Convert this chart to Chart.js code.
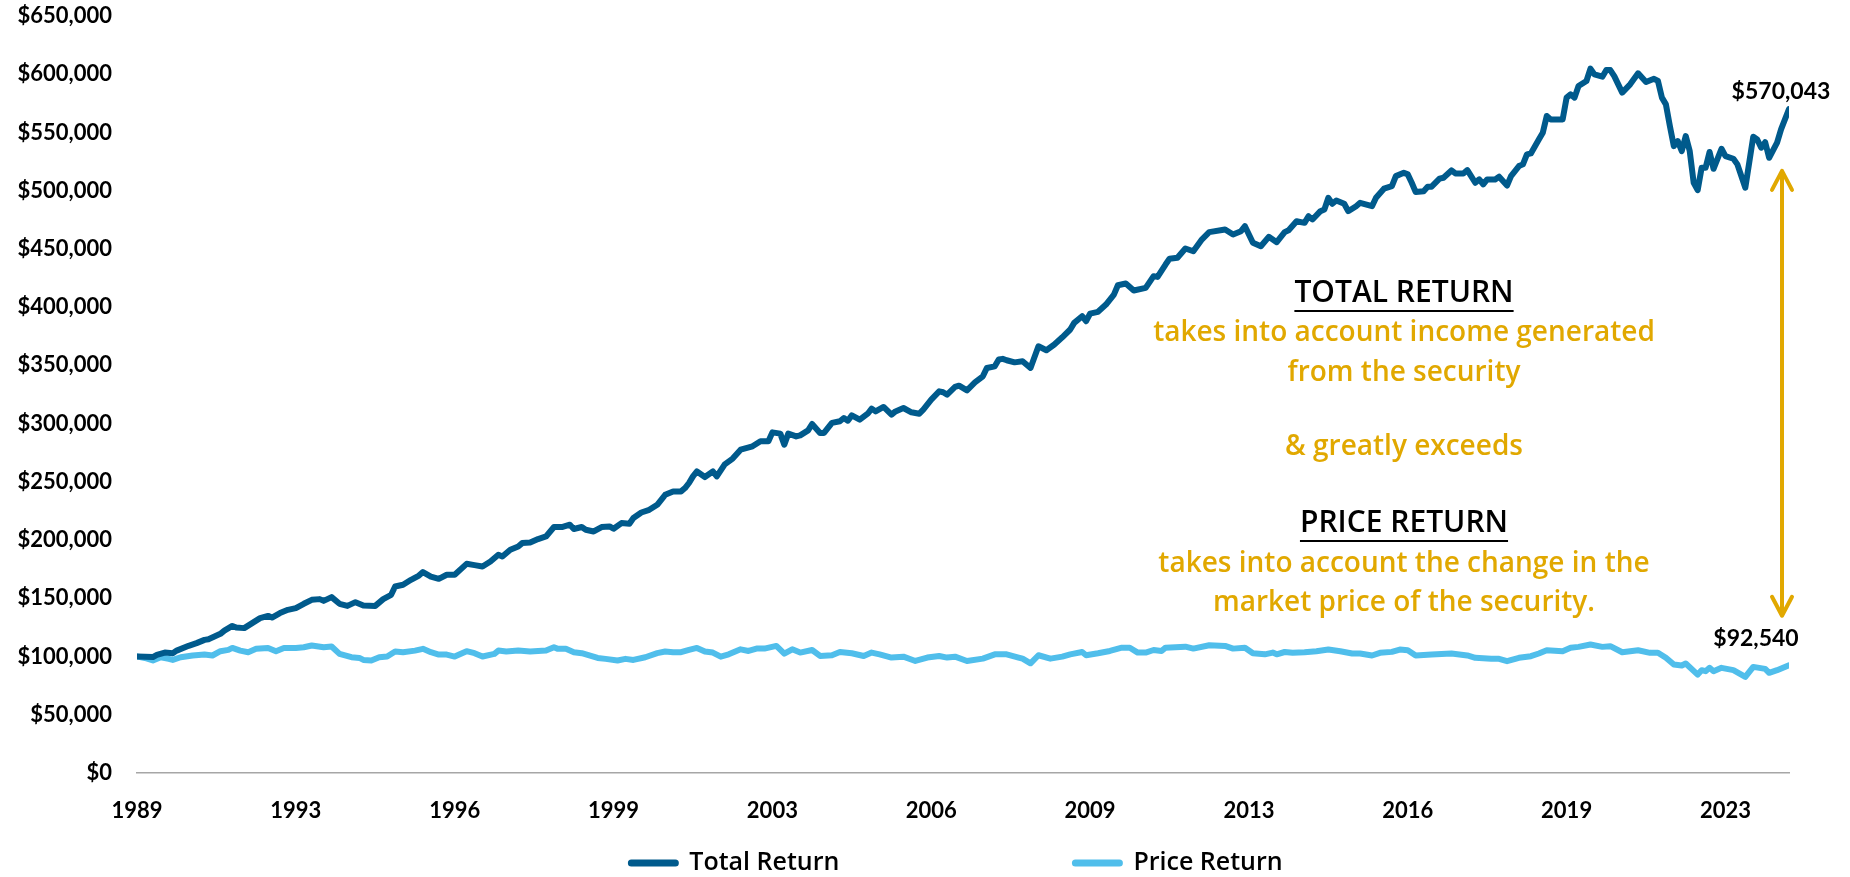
<!DOCTYPE html>
<html><head><meta charset="utf-8">
<script src="https://cdn.jsdelivr.net/npm/chart.js@4.4.0/dist/chart.umd.min.js"></script>
<style>html,body{margin:0;padding:0;background:#fff;} #wrap{width:1850px;height:877px;position:relative;}</style>
</head><body><div id="wrap"><canvas id="c"></canvas></div>
<script>
// x axis: months counted from the first observation (late 1989)
const xTickLabels = ['1989','1993','1996','1999','2003','2006','2009','2013','2016','2019','2023'];
const seriesNames = ['Total Return','Price Return'];
const endLabels = ['$570,043','$92,540'];
const noteLines = ['TOTAL RETURN','takes into account income generated','from the security','& greatly exceeds','PRICE RETURN','takes into account the change in the','market price of the security.'];

const totalReturnMonth = [0,4,5,7,9,10,13,15,17,18,
21,22,24,25,27,29,31,33,34,36,
38,40,42,44,46,47,49,51,53,55,
57,60,62,64,65,67,69,71,72,74,
76,78,80,83,85,87,89,91,92,94,
96,97,99,101,103,105,107,109,110,112,
113,115,117,119,120,122,124,125,127,129,
131,133,135,137,138,139,140,141,143,145,
146,148,150,152,155,157,159,160,162,163,
164,166,167,169,170,172,173,175,177,178,
179,180,182,184,185,186,188,190,191,193,
195,197,198,200,202,203,204,206,207,209,
211,213,214,216,217,218,219,221,223,225,
227,229,231,233,235,236,238,239,240,242,
244,246,247,249,251,254,256,257,259,260,
262,264,266,268,270,274,276,278,279,281,
283,285,287,289,290,292,294,295,296,298,
299,300,301,302,304,305,307,308,311,312,
314,316,317,319,320,321,322,324,325,326,
328,329,331,332,334,335,337,338,339,340,
342,343,345,346,348,349,350,351,353,354,
355,356,359,360,361,362,363,365,366,367,
369,370,371,372,374,376,378,380,382,383,
384,385,386,387,388,389,390,391,392,393,
394,395,396,397,399,400,402,403,405,407,
408,409,410,411,413,414,416];
const totalReturnValue = [100000,99500,101400,103400,102900,105100,109200,111500,114300,114900,
119500,122300,126300,124900,124400,128700,133000,134900,133500,137300,
140100,141600,145300,148700,149300,147800,151000,145300,143500,146700,
143800,143500,149300,153000,160100,161600,165900,169500,172500,168700,
166700,170200,170200,179600,178500,177300,181600,187400,185900,191700,
194500,197400,197900,200900,203100,211200,211200,213200,209500,211200,
208900,207400,211200,211700,209700,214600,214000,218900,223700,226000,
230300,238900,241800,241800,244700,249000,254700,258900,254100,258900,
254700,265000,270000,277600,280500,284800,284800,292500,291400,281900,
291400,289000,289900,294200,299700,292000,292000,300600,302000,304800,
302500,307100,303400,308500,312900,310500,314300,307700,310500,313400,
309700,308500,312000,320600,327700,326900,324900,331500,332600,328600,
335400,340600,347800,349200,355000,355600,354400,352600,353500,347800,
366400,363000,367900,374100,380800,386500,392200,387900,394500,396000,
402200,410800,418800,420300,414300,416600,426600,426000,436600,441500,
442400,450400,448000,457500,464400,466700,462400,465200,469500,455300,
452300,460400,455800,464400,466000,473800,472400,478100,475300,482400,
483900,493900,488800,491600,488800,482400,486700,489600,486700,493900,
501700,503900,512500,515400,514000,506800,498800,499600,503400,503400,
510300,511100,517400,514800,514800,517700,506800,509700,505400,509700,
509700,512000,504500,512500,521100,522600,531200,532000,544000,549800,
564100,561200,561200,579900,582700,579900,589900,594200,604800,599900,
597900,603600,603600,598400,584200,591300,600800,593300,596100,594200,
579900,574100,555500,538300,542600,534000,546900,534000,506800,500500,
519700,519700,533200,518800,536000,529700,527400,522600,502500,546400,
544000,536900,541700,528300,541200,552600,570043];

const priceReturnMonth = [0,2,4,6,8,9,11,14,17,19,
21,23,24,26,28,30,33,35,37,40,
42,44,47,49,51,54,56,57,59,61,
63,65,67,70,72,74,76,78,80,83,
85,87,90,91,93,96,99,103,105,106,
108,110,112,116,118,121,123,125,128,131,
133,135,137,139,141,143,145,147,149,152,
154,156,158,161,163,165,167,170,172,175,
177,180,183,185,187,190,193,196,199,202,
204,206,209,213,216,219,222,223,225,227,
230,233,235,238,239,242,245,248,250,252,
254,256,258,259,264,266,270,274,276,279,
281,284,286,287,289,291,294,297,300,303,
306,308,311,313,316,318,320,322,326,331,
335,337,341,343,345,348,351,353,355,359,
361,363,366,369,371,374,378,381,383,385,
387,389,390,393,394,395,396,397,399,402,
405,407,410,411,413,416];
const priceReturnValue = [100000,98800,96600,99400,98000,97100,99400,100900,101700,100900,
104600,105700,107400,105100,103700,106600,107400,104600,107400,107400,
108000,109500,108000,108600,102300,99400,98800,97100,96600,99400,
100000,104300,103700,105100,106600,103700,101700,101700,100000,104600,
102900,100000,102300,105100,104300,105100,104300,105100,108000,106600,
106600,103700,102900,98800,98000,96600,98000,97100,99400,102900,
104300,103700,103700,105700,107400,104300,103400,99900,101900,106200,
104800,106800,106800,109100,102500,106200,103400,105600,100500,101100,
103900,102800,100500,103400,101900,99100,99900,96200,99100,100500,
99100,99900,96200,98200,101900,101900,99100,98200,94200,101100,
98200,99900,101900,103900,101100,102800,104800,107600,107600,103400,
103400,105600,104800,107600,108500,106800,109700,109100,106800,107600,
102800,101900,103400,101900,103900,103200,103700,104600,106000,104600,
102600,102600,100900,103200,104000,106000,105400,100900,101700,102600,
100900,98900,98000,98000,96000,98900,100300,102600,105400,104600,
107500,108300,110300,108300,108900,103700,105400,103200,103200,98900,
93100,92300,94000,84500,88300,87400,90300,87400,90300,88300,
82500,91100,89400,86000,88300,92540];

const COL_TR = '#005A8C', COL_PR = '#50BEEB', GOLD = '#E1A800';
const toPts = (ms, vs) => ms.map((m, i) => ({x: m, y: vs[i]}));
const lastMonth = totalReturnMonth[totalReturnMonth.length - 1];

const annot = {
  id: 'annot',
  afterDraw(chart) {
    const {ctx, chartArea: ca, scales: {x, y}} = chart;
    ctx.save();
    // end value labels
    ctx.font = 'bold 23px Lato';
    ctx.fillStyle = '#000'; ctx.textAlign = 'center'; ctx.textBaseline = 'middle';
    const xe = x.getPixelForValue(lastMonth);
    ctx.fillText(endLabels[0], xe - 8, y.getPixelForValue(totalReturnValue[totalReturnValue.length-1]) - 18);
    ctx.fillText(endLabels[1], xe - 33, y.getPixelForValue(priceReturnValue[priceReturnValue.length-1]) - 27);
    // double-headed arrow
    const ax = xe - 7, at = y.getPixelForValue(517000), ab = y.getPixelForValue(135000);
    ctx.strokeStyle = GOLD; ctx.lineWidth = 4; ctx.lineCap = 'round'; ctx.lineJoin = 'round';
    ctx.beginPath(); ctx.moveTo(ax, at + 2); ctx.lineTo(ax, ab - 2); ctx.stroke();
    ctx.beginPath(); ctx.moveTo(ax - 10, at + 19); ctx.lineTo(ax, at); ctx.lineTo(ax + 10, at + 19); ctx.stroke();
    ctx.beginPath(); ctx.moveTo(ax - 10, ab - 19); ctx.lineTo(ax, ab); ctx.lineTo(ax + 10, ab - 19); ctx.stroke();
    // explanatory text block
    const cx = 1404;
    const ys = [293, 333, 373, 447, 523, 564, 603];
    noteLines.forEach((t, i) => {
      const head = (i === 0 || i === 4);
      ctx.font = head ? '600 30px "Open Sans"' : '600 28px "Open Sans"';
      ctx.fillStyle = head ? '#000' : GOLD;
      ctx.textAlign = 'center'; ctx.textBaseline = 'middle';
      ctx.fillText(t, cx, ys[i]);
      if (head) {
        const w = ctx.measureText(t).width;
        ctx.fillRect(cx - w/2, ys[i] + 17, w, 2);
      }
    });
    // legend
    ctx.font = '600 25px "Open Sans"';
    ctx.textAlign = 'left'; ctx.textBaseline = 'middle';
    const sw = 52, gapT = 10, gapI = 232;
    const w1 = ctx.measureText(seriesNames[0]).width, w2 = ctx.measureText(seriesNames[1]).width;
    const total = sw + gapT + w1 + gapI + sw + gapT + w2;
    let lx = (ca.left + ca.right) / 2 - 8 - total / 2;
    const ly = 863;
    [[COL_TR, seriesNames[0], w1], [COL_PR, seriesNames[1], w2]].forEach(([c, t, w]) => {
      ctx.strokeStyle = c; ctx.lineWidth = 7; ctx.lineCap = 'round';
      ctx.beginPath(); ctx.moveTo(lx + 4, ly); ctx.lineTo(lx + sw - 4, ly); ctx.stroke();
      ctx.fillStyle = '#000';
      ctx.fillText(t, lx + sw + gapT, ly);
      lx += sw + gapT + w + gapI;
    });
    ctx.restore();
  }
};

new Chart(document.getElementById('c'), {
  type: 'line',
  data: {
    datasets: [
      {label: seriesNames[0], data: toPts(totalReturnMonth, totalReturnValue), borderColor: COL_TR, borderWidth: 6,
       pointRadius: 0, tension: 0, borderJoinStyle: 'round', borderCapStyle: 'round', fill: false},
      {label: seriesNames[1], data: toPts(priceReturnMonth, priceReturnValue), borderColor: COL_PR, borderWidth: 6,
       pointRadius: 0, tension: 0, borderJoinStyle: 'round', borderCapStyle: 'round', fill: false}
    ]
  },
  options: {
    responsive: true, maintainAspectRatio: false, animation: false,
    layout: {padding: {left: 10, right: 61, top: 16, bottom: 0}},
    plugins: {legend: {display: false}, tooltip: {enabled: false}},
    scales: {
      x: {
        type: 'linear', min: 0, max: lastMonth,
        grid: {display: false, drawTicks: false},
        border: {display: true, color: '#A6A6A6', width: 1.5},
        afterBuildTicks: s => { s.ticks = xTickLabels.map((_, i) => ({value: i * 40})); },
        afterFit: s => { s.height = 104; s.paddingLeft = 0; s.paddingRight = 0; },
        ticks: {
          autoSkip: false, maxRotation: 0, padding: 25, color: '#000',
          font: {family: 'Lato', weight: 'bold', size: 22},
          callback: (v) => xTickLabels[Math.round(v / 40)]
        }
      },
      y: {
        min: 0, max: 650000,
        grid: {display: false, drawTicks: false},
        border: {display: false},
        afterFit: s => { s.width = 127; s.paddingTop = 0; s.paddingBottom = 0; },
        ticks: {
          stepSize: 50000, padding: 25, color: '#000',
          font: {family: 'Lato', weight: 'bold', size: 22},
          callback: v => '$' + Number(v).toLocaleString('en-US')
        }
      }
    }
  },
  plugins: [annot]
});
</script></body></html>
